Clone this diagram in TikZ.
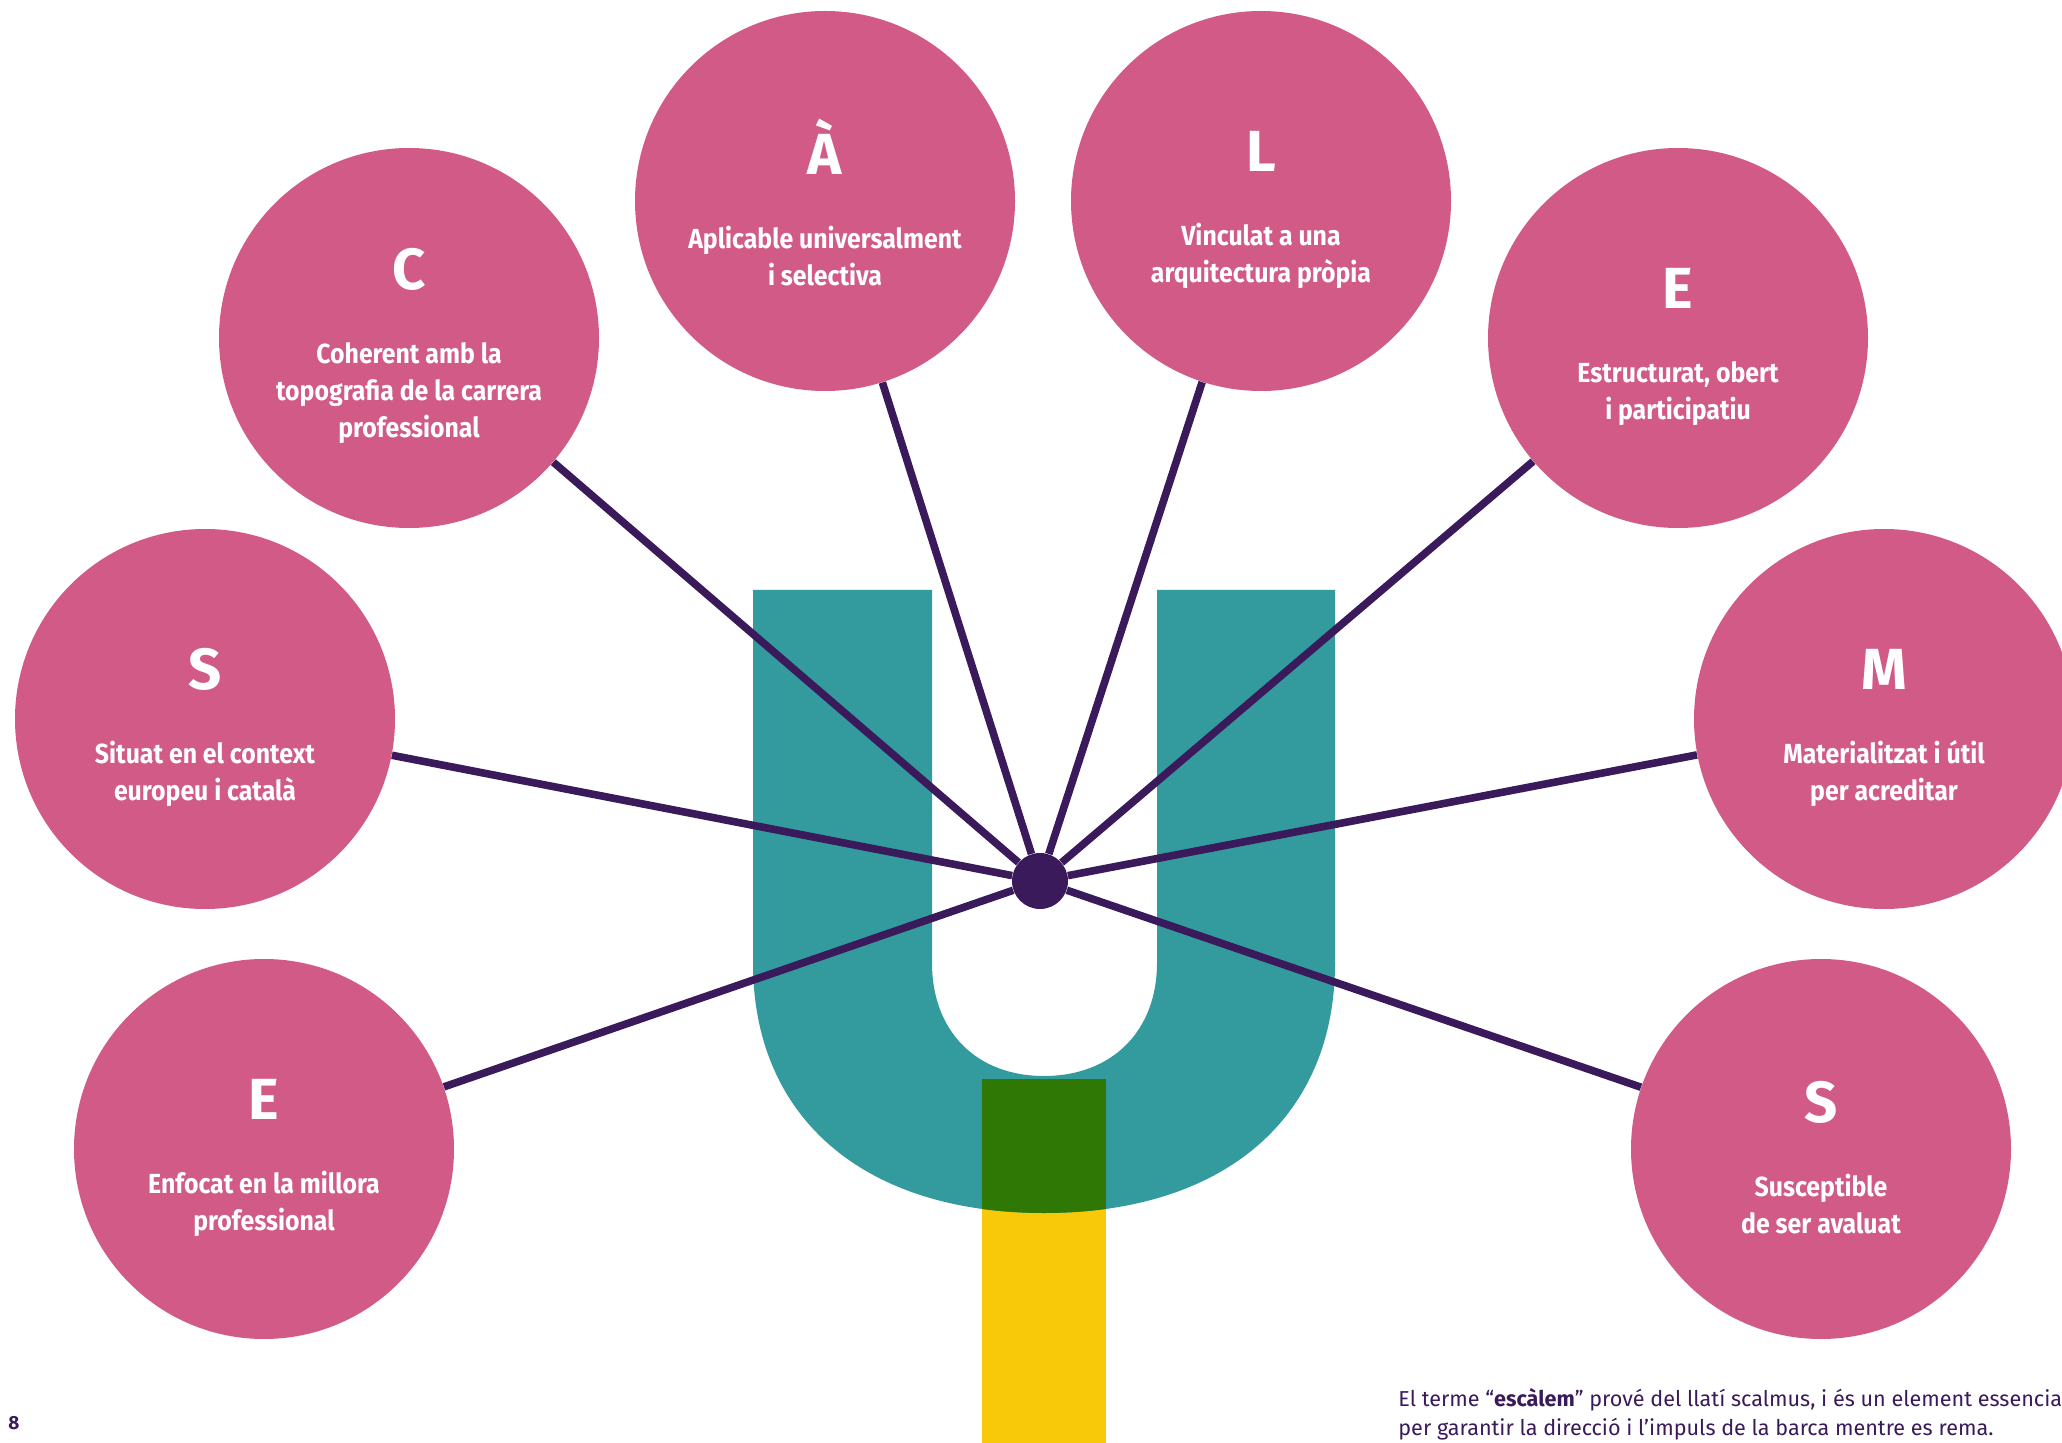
\documentclass[tikz,border=0pt]{standalone}
\usepackage{fontspec}
\setmainfont{Fira Sans}
\newfontfamily\petalfont{Fira Sans}[FakeStretch=0.9]

\definecolor{petal}{HTML}{D15B86}
\definecolor{uteal}{HTML}{339A9E}
\definecolor{stemgreen}{HTML}{307805}
\definecolor{stemyellow}{HTML}{F8C908}
\definecolor{ink}{HTML}{3A1A5A}

% big initial on top of each circle, accents kept out of the height
\newcommand{\capletter}[1]{{\rmfamily\bfseries\fontsize{29}{34}\selectfont\smash{#1}\rule{0pt}{29pt}}}

% outline of the U
\newcommand{\ushape}{(753,590) -- (753,963) .. controls (753,1118) and (864,1213) .. (1044,1213)
  .. controls (1224,1213) and (1335,1118) .. (1335,963) -- (1335,590) -- (1157,590) -- (1157,963)
  .. controls (1157,1031) and (1112,1076) .. (1044,1076) .. controls (976,1076) and (932,1031) .. (932,963)
  -- (932,590) -- cycle}

\begin{document}
\begin{tikzpicture}[x=0.5pt, y=-0.5pt,
    petal/.style={circle, fill=petal, minimum size=190pt, inner sep=0pt, text=white, align=center,
      font=\petalfont\bfseries\fontsize{13.8}{18.5}\selectfont},
    hub/.style={circle, fill=ink, minimum size=28pt, inner sep=0pt},
    spoke/.style={draw=ink, line width=3.8pt},
    note/.style={text=ink, align=left, inner sep=0pt, font=\fontsize{10.8}{14.5}\selectfont}]

\useasboundingbox (0,0) rectangle (2062,1443);
\fill[white] (0,0) rectangle (2062,1443);

% the U and its stem
\fill[stemyellow] (982,1079) rectangle (1106,1443);
\fill[uteal] \ushape;
\begin{scope}
  \clip \ushape;
  \fill[stemgreen] (982,1079) rectangle (1106,1443);
\end{scope}

\node[hub] (hub) at (1040,881) {};

\node[petal] (c) at (409,338) {\capletter{C}\\[18.5pt]Coherent amb la\\topografia de la carrera\\professional};
\node[petal] (a) at (825,201) {\capletter{À}\\[18.5pt]Aplicable universalment\\i selectiva};
\node[petal] (l) at (1261,201) {\capletter{L}\\[18.5pt]Vinculat a una\\arquitectura pròpia};
\node[petal] (e1) at (1678,338) {\capletter{E}\\[18.5pt]Estructurat, obert\\i participatiu};
\node[petal] (s1) at (205,719) {\capletter{S}\\[18.5pt]Situat en el context\\europeu i català};
\node[petal] (m) at (1884,719) {\capletter{M}\\[18.5pt]Materialitzat i útil\\per acreditar};
\node[petal] (e2) at (264,1149) {\capletter{E}\\[18.5pt]Enfocat en la millora\\professional};
\node[petal] (s2) at (1821,1149) {\capletter{S}\\[18.5pt]Susceptible\\de ser avaluat};

% spokes from the hub
\foreach \p in {c,a,l,e1,s1,m,e2,s2}
  \draw[spoke] (hub) -- (\p);

\node[note, anchor=base west] (note) at (1398,1435) {El terme “\textbf{escàlem}” prové del llatí scalmus, i és un element essencial\\per garantir la direcció i l’impuls de la barca mentre es rema.};
\node[text=ink, font=\bfseries\fontsize{9.5}{11}\selectfont] (page) at (14,1423) {8};

\end{tikzpicture}
\end{document}
